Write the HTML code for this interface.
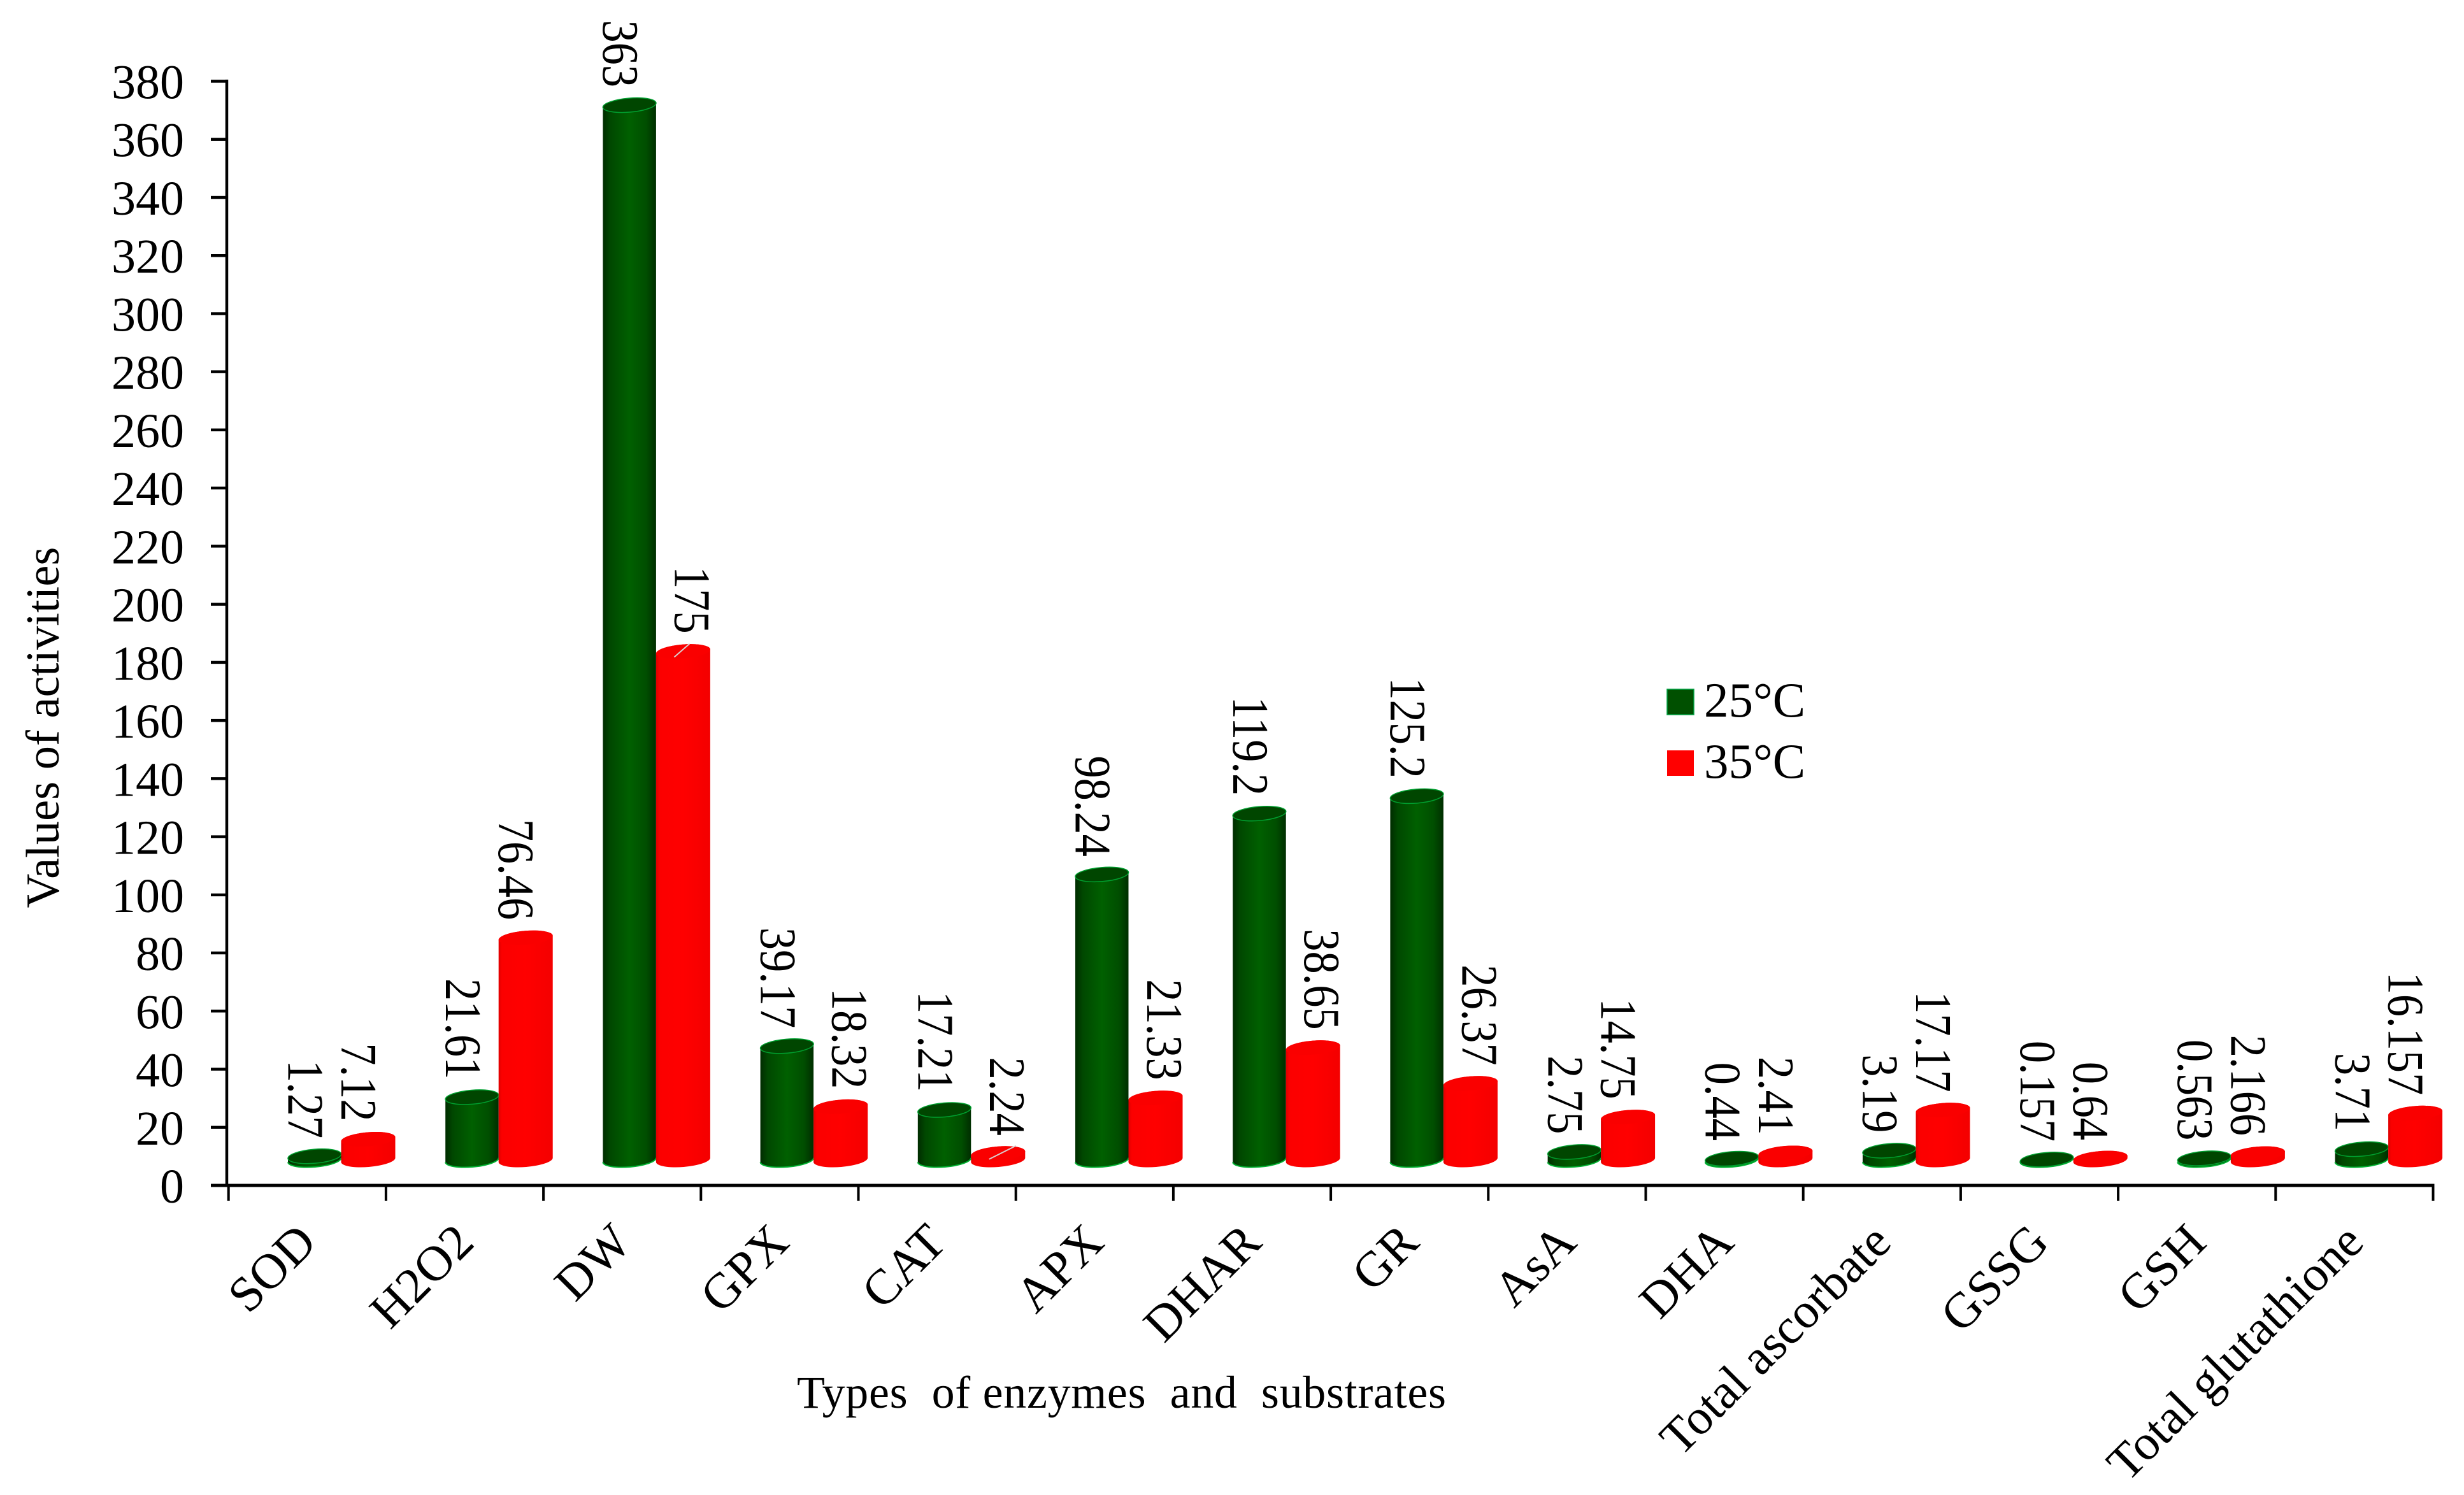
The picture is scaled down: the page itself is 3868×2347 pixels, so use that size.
<!DOCTYPE html>
<html lang="en">
<head>
<meta charset="utf-8">
<title>Values of activities by enzymes and substrates</title>
<style>
html,body{margin:0;padding:0;background:#fff;overflow:hidden;}
svg{display:block;}
text{font-family:"Liberation Serif","Times New Roman",serif;fill:#000;}
</style>
</head>
<body>
<svg id="chart" xmlns="http://www.w3.org/2000/svg" width="3868" height="2347" viewBox="0 0 3868 2347">
  <defs>
    <linearGradient id="green-body" x1="0" y1="0" x2="1" y2="0">
      <stop offset="0" stop-color="#002c00"/>
      <stop offset="0.14" stop-color="#004800"/>
      <stop offset="0.5" stop-color="#006000"/>
      <stop offset="0.82" stop-color="#004e00"/>
      <stop offset="1" stop-color="#002e00"/>
    </linearGradient>
    <linearGradient id="red-body" x1="0" y1="0" x2="1" y2="0">
      <stop offset="0" stop-color="#dd0000"/>
      <stop offset="0.06" stop-color="#fb0000"/>
      <stop offset="0.5" stop-color="#ff0000"/>
      <stop offset="1" stop-color="#f40000"/>
    </linearGradient>
  </defs>
  <rect x="0" y="0" width="3868" height="2347" fill="#ffffff"/>
  <g id="axes"></g>
  <g id="bars"></g>
  <g id="labels"></g>

  <text transform="translate(92,1142) rotate(-90)" text-anchor="middle" font-size="74.5">Values of activities</text>
  <text x="1251" y="2210" font-size="72" textLength="1019" style="white-space:pre">Types  of enzymes  and  substrates</text>

  <g>
    <rect x="2617" y="1082" width="42" height="40" fill="#005000" stroke="#00a040" stroke-width="1.5"/>
    <text x="2675" y="1125" font-size="77">25°C</text>
    <rect x="2617" y="1178" width="42" height="40" fill="#ff0000"/>
    <text x="2675" y="1221" font-size="77">35°C</text>
  </g>
</svg>
<script>
const categories = ["SOD","H2O2","DW","GPX","CAT","APX","DHAR","GR","AsA","DHA","Total ascorbate","GSSG","GSH","Total glutathione"];
const series25 = [1.27,21.61,363,39.17,17.21,98.24,119.2,125.2,2.75,0.44,3.19,0.157,0.563,3.71];
const series35 = [7.12,76.46,175,18.32,2.24,21.33,38.65,26.37,14.75,2.41,17.17,0.64,2.166,16.157];
const yTicks = [0,20,40,60,80,100,120,140,160,180,200,220,240,260,280,300,320,340,360,380];

const NS = "http://www.w3.org/2000/svg";
const axes = document.getElementById("axes");
const bars = document.getElementById("bars");
const labels = document.getElementById("labels");

function mk(tag, parent, attrs) {
  const el = document.createElementNS(NS, tag);
  for (const k in attrs) el.setAttribute(k, attrs[k]);
  parent.appendChild(el);
  return el;
}

// axis functions
const axisY0 = 1861, axisYTop = 127.5, axisYMax = 380;
const yAxis = v => axisY0 - (v / axisYMax) * (axisY0 - axisYTop);
const xLeft = 358.7, xStep = 247.2;
const xTick = i => xLeft + i * xStep;
// the 3D floor sits above the axis line
const floorOffset = yAxis(0) - 1821;
const barTop = v => yAxis(v) - floorOffset;

// axis lines
const yLine = mk("line", axes, {x1:356, y1:axisYTop-2.5, x2:356, y2:axisY0+2.5, stroke:"#000", "stroke-width":4.5});


const xLine = mk("line", axes, {x1:331, y1:axisY0, x2:xTick(categories.length)+2, y2:axisY0, stroke:"#000", "stroke-width":5});



yTicks.forEach(v => {
  const y = yAxis(v);
  const t = mk("line", axes, {x1:331, y1:y, x2:356, y2:y, stroke:"#000", "stroke-width":4.5});
  
  
  const l = mk("text", axes, {x:289, y:y+27, "text-anchor":"end", "font-size":76});
  l.textContent = String(v);
  
  
});

for (let i = 0; i <= categories.length; i++) {
  const t = mk("line", axes, {x1:xTick(i), y1:axisY0, x2:xTick(i), y2:1885, stroke:"#000", "stroke-width":4});
  
  
}

categories.forEach((c, i) => {
  const cx = xTick(i) + xStep / 2;
  const l = mk("text", axes, {
    transform: "translate(" + (cx + 18) + ",1954) rotate(-45)",
    "text-anchor": "end",
    "font-size": 78
  });
  l.textContent = c;
  
  
});

function cylinder(x0, x1, v, kind) {
  const yTop = barTop(v);
  const yBase = barTop(0);
  const tilt = 3.5;
  const rx = Math.hypot((x1 - x0) / 2, tilt);
  const ry = 11;
  const rot = -Math.atan2(tilt, (x1 - x0) / 2) * 180 / Math.PI;
  const d = "M" + x0 + "," + (yTop + tilt) +
    " L" + x0 + "," + (yBase + tilt) +
    " A" + rx + "," + ry + " " + rot + " 0 0 " + x1 + "," + (yBase - tilt) +
    " L" + x1 + "," + (yTop - tilt) +
    " A" + rx + "," + ry + " " + rot + " 0 0 " + x0 + "," + (yTop + tilt) + " Z";
  const g = mk("g", bars, {});
  
  
  const cxm = (x0 + x1) / 2;
  if (kind === "g") {
    const edge = "M" + x0 + "," + (yBase + tilt) + " A" + rx + "," + ry + " " + rot + " 0 0 " + x1 + "," + (yBase - tilt);
    mk("path", g, {d: d, fill: "url(#green-body)"});
    mk("path", g, {d: edge, fill: "none", stroke: "#00b030", "stroke-width": 2});
    mk("ellipse", g, {cx: cxm, cy: yTop, rx: rx, ry: ry, fill: "#004600", stroke: "#00a030", "stroke-width": 1.5,
      transform: "rotate(" + rot + " " + cxm + " " + yTop + ")"});
  } else {
    mk("path", g, {d: d, fill: "url(#red-body)"});
    mk("ellipse", g, {cx: cxm, cy: yTop, rx: rx, ry: ry, fill: "#fa0000",
      transform: "rotate(" + rot + " " + cxm + " " + yTop + ")"});
  }
  return g;
}

function valueLabel(cx, v, name) {
  const fs = 80;
  const l = mk("text", labels, {
    transform: "translate(" + (cx - fs * 0.338) + "," + (barTop(v) - 28) + ") rotate(90) scale(0.88,1)",
    "text-anchor": "end",
    "font-size": fs
  });
  l.textContent = String(v);
  
  
}

categories.forEach((c, i) => {
  const off = i * xStep;
  const gx0 = 452 + off, mid = 535.5 + off, rx1 = 620.5 + off;
  cylinder(gx0, mid, series25[i], "g");
  const redGroup = cylinder(mid, rx1, series35[i], "r");
  if (i === 2 || i === 4) {
    const cx = (mid + rx1) / 2, yc = barTop(series35[i]);
    const glint = mk("line", redGroup, {x1:cx-14, y1:yc+9, x2:cx+(i===4?28:10), y2:yc-12, stroke:"#d8d0d0", "stroke-width":2});
    
    
  }
  // labels sit over the bar's left part; a red label clears the taller green bar beside it
  const redShift = series35[i] < series25[i] ? 14 : -15;
  valueLabel((gx0 + mid) / 2 - 14, series25[i], 'value-label-25c');
  valueLabel((mid + rx1) / 2 + redShift, series35[i], 'value-label-35c');
});
</script>
</body>
</html>
